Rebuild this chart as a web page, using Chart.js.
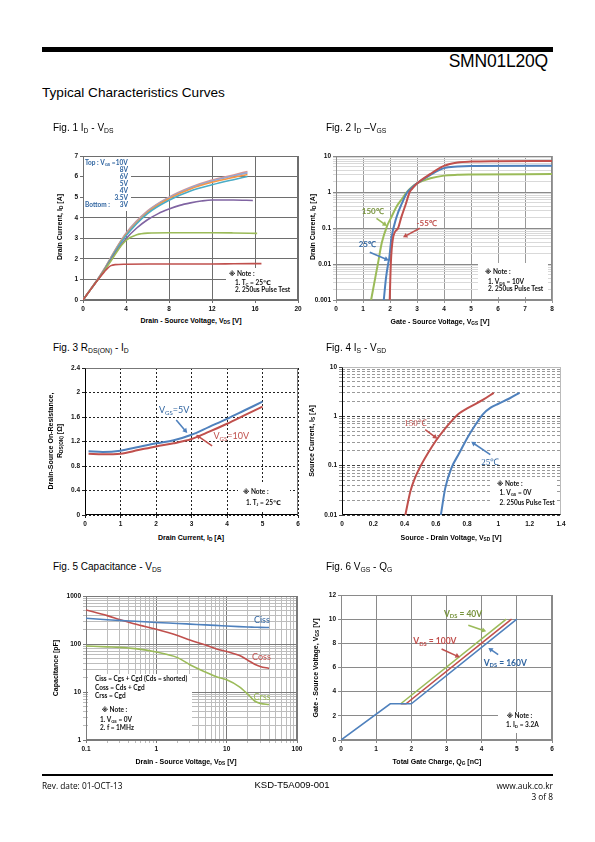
<!DOCTYPE html>
<html><head><meta charset="utf-8">
<script src="https://cdn.jsdelivr.net/npm/chart.js@4.4.1/dist/chart.umd.min.js"></script>
<style>
html,body{margin:0;padding:0;background:#fff}
body{width:595px;height:842px;position:relative;overflow:hidden;font-family:'Liberation Sans',Arial,sans-serif;color:#000}
canvas{position:absolute;z-index:1}
.t{position:absolute;white-space:nowrap;z-index:3;line-height:1;transform:translateY(-50%)}
.c{transform:translate(-50%,-50%)}
.v{transform:translate(-50%,-50%) rotate(-90deg)}
.wb{position:absolute;background:#fff;z-index:2}
sub{font-size:68%;vertical-align:-0.25em;line-height:0}
.nt{font-family:Lato,'DejaVu Sans',sans-serif;font-weight:bold;font-size:6.5px;color:#111}
.lg{font-family:Lato,'DejaVu Sans',sans-serif;font-weight:bold;font-size:6.5px;color:#2f64a0}
.ax{font-weight:bold;font-size:7px}
.fg{font-size:10px}
.ft{font-family:'Open Sans',sans-serif;font-size:8.3px}
</style></head><body>
<div style="position:absolute;left:42px;top:47px;width:511px;height:5px;background:#000"></div>
<div class="t" style="right:47px;top:62px;font-size:17.5px;letter-spacing:-0.2px">SMN01L20Q</div>
<div class="t" style="left:42px;top:93px;font-size:13.6px">Typical Characteristics Curves</div>

<div class="t fg" style="left:53px;top:128px">Fig. 1 I<sub>D</sub> - V<sub>DS</sub></div>
<div class="t fg" style="left:326px;top:128px">Fig. 2 I<sub>D</sub> –V<sub>GS</sub></div>
<div class="t fg" style="left:53px;top:348px">Fig. 3 R<sub>DS(ON)</sub> - I<sub>D</sub></div>
<div class="t fg" style="left:326px;top:348px">Fig. 4 I<sub>S</sub> - V<sub>SD</sub></div>
<div class="t fg" style="left:53px;top:567px">Fig. 5 Capacitance - V<sub>DS</sub></div>
<div class="t fg" style="left:326px;top:567px">Fig. 6 V<sub>GS</sub> - Q<sub>G</sub></div>

<div class="t ax c" style="left:191px;top:320px">Drain - Source Voltage, V<sub>DS</sub> [V]</div>
<div class="t ax v" style="left:59px;top:227px">Drain Current, I<sub>D</sub> [A]</div>
<div class="t ax c" style="left:440px;top:320.5px">Gate - Source Voltage, V<sub>GS</sub> [V]</div>
<div class="t ax v" style="left:312px;top:227px">Drain Current, I<sub>D</sub> [A]</div>
<div class="t ax c" style="left:191px;top:536.5px">Drain Current, I<sub>D</sub> [A]</div>
<div class="t ax v" style="left:50px;top:441px">Drain-Source On-Resistance,</div>
<div class="t ax v" style="left:58.5px;top:441px">R<sub>DS(ON)</sub> [Ω]</div>
<div class="t ax c" style="left:451px;top:536.5px">Source - Drain Voltage, V<sub>SD</sub> [V]</div>
<div class="t ax v" style="left:311px;top:441px">Source Current, I<sub>S</sub> [A]</div>
<div class="t ax c" style="left:186px;top:761px">Drain - Source Voltage, V<sub>DS</sub> [V]</div>
<div class="t ax v" style="left:55px;top:668px">Capacitance [pF]</div>
<div class="t ax c" style="left:437px;top:761px">Total Gate Charge, Q<sub>G</sub> [nC]</div>
<div class="t ax v" style="left:315px;top:668px">Gate - Source Voltage, V<sub>GS</sub> [V]</div>

<!-- Fig1 legend -->
<div class="wb" style="left:84px;top:157px;width:47px;height:54px"></div>
<div class="t lg" style="left:85px;top:162.7px">Top : V<sub>GS</sub> =10V</div>
<div class="t lg" style="right:467px;top:169.7px">8V</div>
<div class="t lg" style="right:467px;top:176.7px">6V</div>
<div class="t lg" style="right:467px;top:183.7px">5V</div>
<div class="t lg" style="right:467px;top:190.7px">4V</div>
<div class="t lg" style="right:467px;top:197.7px">3.5V</div>
<div class="t lg" style="left:85px;top:205px">Bottom :</div>
<div class="t lg" style="right:467px;top:205px">3V</div>
<!-- Fig1 note -->
<div class="wb" style="left:226px;top:268px;width:71px;height:31px"></div>
<div class="t nt" style="left:229px;top:274.3px">※ Note :</div>
<div class="t nt" style="left:235px;top:282.7px">1. T<sub>C</sub> = 25℃</div>
<div class="t nt" style="left:235px;top:290.3px">2. 250us Pulse Test</div>
<!-- Fig2 note -->
<div class="wb" style="left:478px;top:263px;width:70px;height:34px"></div>
<div class="t nt" style="left:485px;top:271.7px">※ Note :</div>
<div class="t nt" style="left:488px;top:281.7px">1. V<sub>DS</sub> = 10V</div>
<div class="t nt" style="left:488px;top:289.3px">2. 250us Pulse Test</div>
<!-- Fig3 note -->
<div class="wb" style="left:238px;top:484px;width:52px;height:26px"></div>
<div class="t nt" style="left:243px;top:492px">※ Note :</div>
<div class="t nt" style="left:246px;top:502.7px">1. T<sub>J</sub> = 25℃</div>
<!-- Fig4 note -->
<div class="wb" style="left:492px;top:477px;width:64px;height:32px"></div>
<div class="t nt" style="left:497px;top:484px">※ Note :</div>
<div class="t nt" style="left:499.5px;top:493.3px">1. V<sub>GS</sub> = 0V</div>
<div class="t nt" style="left:499.5px;top:502.7px">2. 250us Pulse Test</div>
<!-- Fig5 note -->
<div class="wb" style="left:88px;top:674px;width:104px;height:65px"></div>
<div class="t nt" style="left:95px;top:679px">Ciss = Cgs + Cgd (Cds = shorted)</div>
<div class="t nt" style="left:95px;top:687.7px">Coss = Cds + Cgd</div>
<div class="t nt" style="left:95px;top:696.3px">Crss = Cgd</div>
<div class="t nt" style="left:101.7px;top:710.3px">※ Note :</div>
<div class="t nt" style="left:100px;top:720px">1. V<sub>GS</sub> = 0V</div>
<div class="t nt" style="left:100px;top:728.3px">2. f = 1MHz</div>
<!-- Fig6 note -->
<div class="wb" style="left:498px;top:712px;width:53px;height:21px"></div>
<div class="t nt" style="left:506.7px;top:716px">※ Note :</div>
<div class="t nt" style="left:506px;top:725.3px">1. I<sub>D</sub> = 3.2A</div>

<!-- footer -->
<div style="position:absolute;left:42px;top:774px;width:511px;height:2px;background:#000"></div>
<div class="t ft" style="left:42px;top:786px">Rev. date: 01-OCT-13</div>
<div class="t c" style="left:292px;top:785px;font-size:9.5px">KSD-T5A009-001</div>
<div class="t ft" style="right:42px;top:786px">www.auk.co.kr</div>
<div class="t ft" style="right:42px;top:797px">3 of 8</div>

<script>
// ---------------- DATA ----------------
// Fig.1  ID - VDS
const f1_vds_3v  = [0,0.5,1,1.5,2,2.3,2.6,3,4,6,8,10,12,14,16.6];
const f1_id_3v   = [0,0.36,0.72,1.06,1.38,1.55,1.67,1.72,1.74,1.75,1.75,1.75,1.75,1.76,1.77];
const f1_vds_35v = [0,0.5,1,1.5,2,2.5,3,3.5,4,5,6,8,10,12,14,16.2];
const f1_id_35v  = [0,0.36,0.72,1.07,1.44,1.82,2.22,2.6,2.9,3.17,3.25,3.27,3.27,3.27,3.26,3.24];
const f1_vds_4v  = [0,0.5,1,1.5,2,3,4,5,6,7,8,9,10,11,12,14,15.8];
const f1_id_4v   = [0,0.36,0.72,1.08,1.46,2.28,2.98,3.5,3.9,4.2,4.42,4.6,4.72,4.81,4.86,4.86,4.84];
const f1_vds_hi  = [0,0.5,1,1.5,2,3,4,6,8,10,12,14,15.3];
const f1_id_5v   = [0,0.36,0.72,1.09,1.48,2.36,3.12,4.2,4.85,5.3,5.6,5.85,6.0];
const f1_id_6v   = [0,0.36,0.73,1.1,1.5,2.4,3.18,4.26,4.93,5.4,5.72,5.96,6.1];
const f1_id_8v   = [0,0.37,0.74,1.11,1.52,2.42,3.22,4.3,4.97,5.45,5.78,6.03,6.18];
const f1_id_10v  = [0,0.37,0.74,1.12,1.53,2.44,3.25,4.33,5.0,5.48,5.83,6.08,6.25];
const f1_xTicks = ['0','4','8','12','16','20'];
const f1_yTicks = ['0','1','2','3','4','5','6','7'];

// Fig.2  ID - VGS
const f2_vgs_m55 = [1.99,2.03,2.11,2.3,2.42,2.58,2.73,2.85,3.0,3.5,4.0,4.5,5.0,6,8];
const f2_id_m55  = [0.001,0.01,0.052,0.1,0.2,0.45,1.0,1.3,1.73,3.2,5.3,6.6,7.0,7.2,7.3];
const f2_vgs_25  = [1.77,1.85,1.93,1.97,2.05,2.24,2.45,2.63,2.8,3.0,3.5,4,4.5,5,8];
const f2_id_25   = [0.001,0.004,0.01,0.014,0.05,0.2,0.5,0.95,1.3,1.73,3.0,4.6,5.1,5.3,5.4];
const f2_vgs_150 = [1.3,1.45,1.55,1.7,1.89,2.05,2.24,2.45,2.63,2.8,3.0,3.5,4,4.5,5,8];
const f2_id_150  = [0.001,0.004,0.01,0.04,0.113,0.2,0.39,0.65,1.0,1.35,1.73,2.4,2.85,3.0,3.05,3.15];
const f2_xTicks = ['0','1','2','3','4','5','6','7','8'];
const f2_yTicks = ['0.001','0.01','0.1','1','10'];

// Fig.3  RDS(ON) - ID
const f3_id     = [0.1,0.5,1,1.5,2,2.5,3,3.5,4,4.5,5];
const f3_r_5v   = [1.04,1.03,1.05,1.11,1.17,1.22,1.31,1.44,1.57,1.71,1.85];
const f3_r_10v  = [1.0,0.99,1.0,1.06,1.12,1.17,1.24,1.36,1.49,1.63,1.77];
const f3_xTicks = ['0','1','2','3','4','5','6'];
const f3_yTicks = ['0','0.4','0.8','1.2','1.6','2','2.4'];

// Fig.4  IS - VSD
const f4_vsd_150 = [0.405,0.437,0.47,0.5,0.55,0.6,0.65,0.7,0.75,0.8,0.9,0.97];
const f4_is_150  = [0.01,0.03,0.06,0.095,0.18,0.32,0.52,0.8,1.15,1.45,2.15,3.0];
const f4_vsd_25  = [0.632,0.66,0.7,0.75,0.8,0.85,0.9,0.95,1.0,1.07,1.135];
const f4_is_25   = [0.01,0.035,0.09,0.18,0.36,0.65,1.1,1.5,1.8,2.3,3.0];
const f4_xTicks = ['0','0.2','0.4','0.6','0.8','1','1.2','1.4'];
const f4_yTicks = ['0.01','0.1','1','10'];

// Fig.5  Capacitance - VDS
const f5_vds  = [0.1,0.2,0.3,0.5,1,2,3,5,7,10,15,20,25,30,40];
const f5_ciss = [343,320,310,298,280,268,260,250,244,237,230,226,224,222,220];
const f5_coss = [512,390,325,260,202,150,121,95,80,70,58,46,38,34,31];
const f5_crss = [91,87,85,80,68,52,37,26,21,18,13,9,6.5,5.8,5.5];
const f5_xTicks = ['0.1','1','10','100'];
const f5_yTicks = ['1','10','100','1000'];

// Fig.6  VGS - QG
const f6_qg_160 = [0,1.4,2.0,5.0];
const f6_v_160  = [0,3,3,10];
const f6_qg_100 = [1.7,1.85,4.85];
const f6_v_100  = [3,3,10];
const f6_qg_40  = [1.7,4.7];
const f6_v_40   = [3,10];
const f6_xTicks = ['0','1','2','3','4','5','6'];
const f6_yTicks = ['0','2','4','6','8','10','12'];

// ---------------- HELPERS ----------------
const COL = {blue:'#4F81BD', red:'#C0504D', green:'#9BBB59', purple:'#8064A2', aqua:'#4BACC6', orange:'#F79646', lblue:'#8EA9DB', pink:'#D99694'};
const pts = (xs, ys) => xs.map((x,i)=>({x, y:ys[i]}));
const tf = {family:"'Liberation Sans', Arial, sans-serif", size:6.5, weight:'bold'};
const isDec = v => Math.abs(Math.log10(v) - Math.round(Math.log10(v))) < 1e-6;
function logVals(a,b){const v=[];for(let e=a;e<b;e++)for(let m=1;m<10;m++)v.push(+(m*Math.pow(10,e)).toPrecision(2));v.push(+Math.pow(10,b).toPrecision(2));return v;}

function lin(min,max,step,labels,gridColor,dash,showGrid){
  return {type:'linear',min,max,
    ticks:{stepSize:step,autoSkip:false,maxRotation:0,padding:2,font:tf,color:'#111',callback:(v,i)=>labels[i]},
    grid:{display:showGrid!==false,color:gridColor,tickLength:3,drawTicks:true},
    border:{display:false,dash:dash||[]}};
}
function logS(a,b,labels,maj,min,dash){
  const vals = logVals(a,b);
  return {type:'logarithmic',min:Math.pow(10,a),max:Math.pow(10,b),
    afterBuildTicks:s=>{s.ticks = vals.map(v=>({value:v, major:isDec(v)}));},
    ticks:{autoSkip:false,maxRotation:0,padding:2,font:tf,color:'#111',
      callback:v=> isDec(v) ? labels[Math.round(Math.log10(v))-a] : ''},
    grid:{color:c=> (c.tick && isDec(c.tick.value)) ? maj : min, tickLength:3},
    border:{display:false,dash:dash||[]}};
}
function ds(xs,ys,color,w,smooth){
  return {data:pts(xs,ys),borderColor:color,backgroundColor:color,borderWidth:w,pointRadius:0,showLine:true,
    fill:false,tension:0,cubicInterpolationMode: smooth?'monotone':'default'};
}

function drawRich(ctx, segs, x, y, size, family, weight, color){
  ctx.save(); ctx.fillStyle=color; ctx.textBaseline='middle';
  let w=0;
  const m = segs.map(s=>{const sz=s[1]?size*0.68:size; ctx.font=`${weight} ${sz}px ${family}`; const ww=ctx.measureText(s[0]).width; w+=ww; return {t:s[0],sz,ww,sub:s[1]};});
  let cx = x - w/2;
  for(const s of m){ ctx.font=`${weight} ${s.sz}px ${family}`; ctx.fillText(s.t, cx, y + (s.sub?size*0.3:0)); cx+=s.ww; }
  ctx.restore();
}
function arrow(ctx,x1,y1,x2,y2,color){
  const a=Math.atan2(y2-y1,x2-x1), L=4.5, W=2.6;
  ctx.save(); ctx.strokeStyle=color; ctx.fillStyle=color; ctx.lineWidth=1.6;
  ctx.beginPath(); ctx.moveTo(x1,y1); ctx.lineTo(x2-L*0.8*Math.cos(a), y2-L*0.8*Math.sin(a)); ctx.stroke();
  ctx.beginPath(); ctx.moveTo(x2,y2);
  ctx.lineTo(x2-L*Math.cos(a)+W*Math.sin(a), y2-L*Math.sin(a)-W*Math.cos(a));
  ctx.lineTo(x2-L*Math.cos(a)-W*Math.sin(a), y2-L*Math.sin(a)+W*Math.cos(a));
  ctx.closePath(); ctx.fill(); ctx.restore();
}
const annPlugin = {id:'ann', afterDatasetsDraw(chart,args,opts){
  const ctx=chart.ctx, xs=chart.scales.x, ys=chart.scales.y;
  (opts.arrows||[]).forEach(a=>arrow(ctx,xs.getPixelForValue(a[0]),ys.getPixelForValue(a[1]),xs.getPixelForValue(a[2]),ys.getPixelForValue(a[3]),a[4]));
  (opts.labels||[]).forEach(l=>drawRich(ctx,l.segs,xs.getPixelForValue(l.x),ys.getPixelForValue(l.y),l.size||8,l.family||'Lato',l.weight||'normal',l.color));
}};
const framePlugin = {id:'frame', beforeDatasetsDraw(chart,args,opts){
  const a=chart.chartArea, ctx=chart.ctx;
  const l=Math.round(a.left)+0.5, t=Math.round(a.top)+0.5, r=Math.round(a.right)-0.5, b=Math.round(a.bottom)-0.5;
  ctx.save(); ctx.lineWidth=1; ctx.strokeStyle=opts.color||'#888';
  ctx.strokeRect(l,t,r-l,b-t);
  if(opts.lb){ctx.strokeStyle=opts.lb; ctx.beginPath(); ctx.moveTo(l,t); ctx.lineTo(l,b); ctx.lineTo(r,b); ctx.stroke();}
  ctx.restore();
}};
Chart.register(annPlugin, framePlugin);

function mk(box, datasets, xs, ys, plug){
  const W=34, H=16, PT=8, PR=16;
  const c=document.createElement('canvas');
  c.width=W+box.w+PR; c.height=PT+box.h+H;
  c.style.left=(box.l-W)+'px'; c.style.top=(box.t-PT)+'px';
  c.style.width=c.width+'px'; c.style.height=c.height+'px';
  document.body.appendChild(c);
  xs.afterFit = s=>{s.height=H;}; xs.position='bottom';
  ys.afterFit = s=>{s.width=W;}; ys.position='left';
  return new Chart(c,{type:'scatter',data:{datasets},
    options:{responsive:false,animation:false,devicePixelRatio:1,
      layout:{padding:{top:PT,right:PR,left:0,bottom:0}},
      scales:{x:xs,y:ys},
      plugins:Object.assign({legend:{display:false},tooltip:{enabled:false}},plug)}});
}

// ---------------- CHARTS ----------------
// Fig 1
mk({l:83,t:156,w:215,h:144},[
  ds(f1_vds_3v,f1_id_3v,COL.red,1.6,true),
  ds(f1_vds_35v,f1_id_35v,COL.green,1.6,true),
  ds(f1_vds_4v,f1_id_4v,COL.purple,1.6,true),
  ds(f1_vds_hi,f1_id_5v,COL.aqua,1.6,true),
  ds(f1_vds_hi,f1_id_6v,COL.orange,1.6,true),
  ds(f1_vds_hi,f1_id_8v,COL.lblue,1.6,true),
  ds(f1_vds_hi,f1_id_10v,COL.pink,1.6,true)
], lin(0,20,4,f1_xTicks,'#6e6e6e'), lin(0,7,1,f1_yTicks,'#6e6e6e'), {frame:{color:'#6e6e6e'}});

// Fig 2
mk({l:336,t:156,w:216,h:144},[
  ds(f2_vgs_m55,f2_id_m55,COL.red,2,true),
  ds(f2_vgs_25,f2_id_25,COL.blue,2,true),
  ds(f2_vgs_150,f2_id_150,COL.green,2,true)
], lin(0,8,1,f2_xTicks,'#9a9a9a'), logS(-3,1,f2_yTicks,'#8a8a8a','#d9d9d9'),
{frame:{color:'#8a8a8a'}, ann:{
  arrows:[[1.50,0.186,1.89,0.113,COL.green],[1.25,0.0213,1.96,0.0125,COL.blue],[3.1,0.098,2.48,0.055,COL.red]],
  labels:[{segs:[['150℃']],x:1.36,y:0.295,color:'#77933C',weight:'bold',size:8},
          {segs:[['25℃']],x:1.16,y:0.034,color:'#2F64A0',weight:'bold',size:8},
          {segs:[['-55℃']],x:3.36,y:0.135,color:'#C0504D',weight:'bold',size:8}]}});

// Fig 3
mk({l:85,t:368,w:213,h:147},[
  ds(f3_id,f3_r_5v,COL.blue,2,true),
  ds(f3_id,f3_r_10v,COL.red,2,true)
], lin(0,6,1,f3_xTicks,'#222',[2,2]), lin(0,2.4,0.4,f3_yTicks,'#222',[2,2]),
{frame:{color:'#777',lb:'#000'}, ann:{
  arrows:[[2.57,1.55,2.88,1.34,COL.blue],[3.58,1.13,3.13,1.31,COL.red]],
  labels:[{segs:[['V'],['GS',1],['=5V']],x:2.51,y:1.715,color:'#2F64A0',size:9},
          {segs:[['V'],['GS',1],['=10V']],x:4.12,y:1.29,color:'#C0504D',size:9}]}});

// Fig 4
mk({l:342,t:367,w:219,h:148},[
  ds(f4_vsd_150,f4_is_150,COL.red,2,true),
  ds(f4_vsd_25,f4_is_25,COL.blue,2,true)
], lin(0,1.4,0.2,f4_xTicks,'#999',[],false), logS(-2,1,f4_yTicks,'#444','#9a9a9a',[3,2]),
{frame:{color:'#bbb',lb:'#000'}, ann:{
  arrows:[[0.532,0.536,0.61,0.352,COL.red],[0.948,0.167,0.826,0.306,COL.blue]],
  labels:[{segs:[['150℃']],x:0.47,y:0.72,color:'#C0504D',family:"'Liberation Serif'",size:9},
          {segs:[['25℃']],x:0.948,y:0.115,color:'#2F64A0',family:"'Liberation Serif'",size:9}]}});

// Fig 5
mk({l:86,t:596,w:211,h:144},[
  ds(f5_vds,f5_ciss,COL.blue,1.6,true),
  ds(f5_vds,f5_coss,COL.red,1.6,true),
  ds(f5_vds,f5_crss,COL.green,1.6,true)
], logS(-1,2,f5_xTicks,'#7a7a7a','#bdbdbd'), logS(0,3,f5_yTicks,'#7a7a7a','#bdbdbd'),
{frame:{color:'#7a7a7a'}, ann:{
  labels:[{segs:[['Ciss']],x:31.7,y:312,color:'#2F64A0',size:9},
          {segs:[['Coss']],x:31.2,y:54,color:'#C0504D',size:9},
          {segs:[['Crss']],x:31.7,y:7.9,color:'#9BBB59',size:9}]}});

// Fig 6
mk({l:341,t:595,w:211,h:145},[
  ds(f6_qg_160,f6_v_160,COL.blue,1.6,false),
  ds(f6_qg_100,f6_v_100,COL.red,1.6,false),
  ds(f6_qg_40,f6_v_40,COL.green,1.6,false)
], lin(0,6,1,f6_xTicks,'#8a8a8a'), lin(0,12,2,f6_yTicks,'#8a8a8a'),
{frame:{color:'#8a8a8a'}, ann:{
  arrows:[[3.62,9.49,4.13,8.99,COL.green],[2.86,7.53,3.38,6.84,COL.red],[4.47,7.06,4.19,7.62,COL.blue]],
  labels:[{segs:[['V'],['DS',1],[' = 40V']],x:3.47,y:10.43,color:'#77933C',weight:'bold',size:8.5},
          {segs:[['V'],['DS',1],[' = 100V']],x:2.67,y:8.16,color:'#C0504D',weight:'bold',size:8.5},
          {segs:[['V'],['DS',1],[' = 160V']],x:4.67,y:6.37,color:'#2F64A0',weight:'bold',size:8.5}]}});
</script>
</body></html>
